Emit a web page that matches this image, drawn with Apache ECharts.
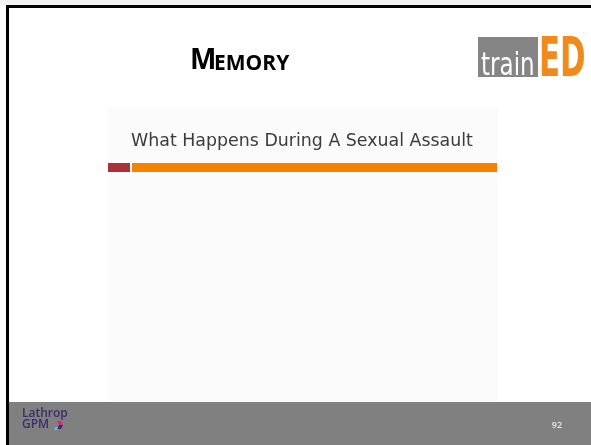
<!DOCTYPE html>
<html>
<head>
<meta charset="utf-8">
<script src="https://cdn.jsdelivr.net/npm/echarts@6/dist/echarts.min.js"></script>
<style>html,body{margin:0;padding:0;background:#fff;}#c{width:591px;height:445px;}</style>
</head>
<body>
<div id="c"></div>
<script>
var slideHeading = ['M', 'EMORY'];
var innerTitle = 'What Happens During A Sexual Assault';
var logoWords = ['train', 'ED'];
var footerLogo = ['Lathrop', 'GPM'];
var pageNumber = '92';

var chart = echarts.init(document.getElementById('c'), null, {renderer: 'canvas'});
var g = [];
// top light strip
g.push({type: 'rect', shape: {x: 0, y: 0, width: 591, height: 5}, style: {fill: '#f3f3f3'}});
// footer band
g.push({type: 'rect', shape: {x: 8, y: 402, width: 583, height: 43}, style: {fill: '#808080'}});
// inner slide image
g.push({type: 'rect', shape: {x: 108, y: 107, width: 390, height: 295}, style: {fill: '#fbfbfb'}});
// borders
g.push({type: 'rect', shape: {x: 6, y: 5, width: 585, height: 3}, style: {fill: '#000'}});
g.push({type: 'rect', shape: {x: 6, y: 5, width: 3, height: 440}, style: {fill: '#000'}});
// heading
g.push({type: 'text', x: 190, y: 75, style: {text: slideHeading[0], fill: '#000', font: 'bold 28px "Open Sans", sans-serif', textVerticalAlign: 'bottom'}});
g.push({type: 'text', x: 214, y: 75, style: {text: slideHeading[1], fill: '#000', font: 'bold 21px "Open Sans", sans-serif', textVerticalAlign: 'bottom'}});
// trainED logo
g.push({type: 'rect', shape: {x: 478, y: 37, width: 60, height: 40}, style: {fill: '#858585'}});
g.push({type: 'text', x: 481, y: 83, scaleX: 0.72,
  style: {text: logoWords[0], fill: '#fff', font: '32px "DejaVu Sans", sans-serif', textVerticalAlign: 'bottom'}});
g.push({type: 'text', x: 539, y: 89, scaleX: 0.56,
  style: {text: logoWords[1], fill: '#f08a1c', font: 'bold 55px "DejaVu Sans", sans-serif', textVerticalAlign: 'bottom'}});
// inner title
g.push({type: 'text', x: 302, y: 141, style: {text: innerTitle, fill: '#3c3c3c', font: '17.4px "DejaVu Sans", sans-serif', textAlign: 'center', textVerticalAlign: 'middle'}});
// bars
g.push({type: 'rect', shape: {x: 108, y: 163, width: 22, height: 9}, style: {fill: '#a8323a'}});
g.push({type: 'rect', shape: {x: 132, y: 163, width: 365, height: 9}, style: {fill: '#f58200'}});
// footer logo
g.push({type: 'text', x: 22, y: 414, style: {text: footerLogo[0], fill: '#3b2c6b', font: '600 12px "Open Sans", sans-serif', textVerticalAlign: 'middle'}});
g.push({type: 'text', x: 22, y: 425, style: {text: footerLogo[1], fill: '#3b2c6b', font: '600 12px "Open Sans", sans-serif', textVerticalAlign: 'middle'}});
g.push({type: 'polygon', shape: {points: [[57, 421], [61, 421], [63, 425], [59, 425]]}, style: {fill: '#e0218a'}});
g.push({type: 'polygon', shape: {points: [[59, 425], [63, 425], [61, 429], [57, 429]]}, style: {fill: '#3b2c6b'}});
g.push({type: 'polygon', shape: {points: [[55, 427], [58, 427], [57, 430], [54, 430]]}, style: {fill: '#4fc3e8'}});
// page number
g.push({type: 'text', x: 557, y: 425, style: {text: pageNumber, fill: '#e6e6e6', font: '600 9px "Open Sans", sans-serif', textAlign: 'center', textVerticalAlign: 'middle'}});

chart.setOption({animation: false, backgroundColor: '#ffffff', graphic: {elements: g}});
</script>
</body>
</html>
